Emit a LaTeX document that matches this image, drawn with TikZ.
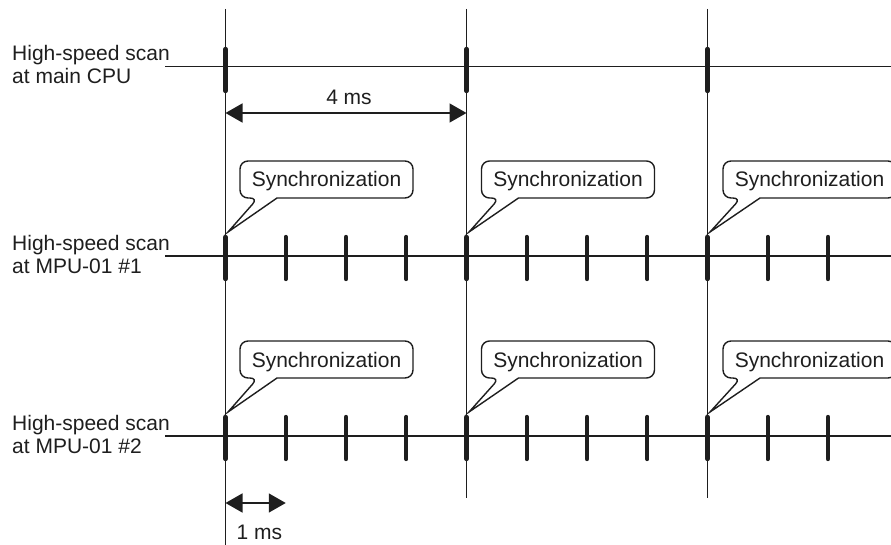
\documentclass[tikz,border=0pt]{standalone}
\usepackage{fontspec}
\setmainfont{Liberation Sans}
\usetikzlibrary{arrows.meta}

\definecolor{ink}{HTML}{1E1E1E}

\tikzset{
  axisline/.style={line width=1.5pt, draw=ink},
  scantick/.style={line width=4.4pt, line cap=round, draw=ink},
  rowlabel/.style={font=\fontsize{21}{23}\selectfont, text=ink, inner sep=0pt, align=left, anchor=west},
  plaintext/.style={font=\fontsize{21}{23}\selectfont, text=ink, inner sep=0pt, anchor=base},
  calloutbox/.style={line width=1.4pt, draw=ink, fill=white, line join=miter},
  dimarrow/.style={line width=1.5pt, draw=ink,
    {Triangle[length=17pt,width=19pt]}-{Triangle[length=17pt,width=19pt]}},
}

% #1 text node name, #2 left edge of the box, #3 x of the sync instant, #4 y of the scan row
\newcommand\synccallout[4]{%
  \draw[calloutbox] ({#2+37},{#4-58}) [rounded corners=8pt]
    -- ({#2+173},{#4-58}) -- ({#2+173},{#4-95}) -- (#2,{#4-95})
    -- (#2,{#4-58}) -- ({#2+18},{#4-58}) [sharp corners]
    -- ({#3+2.5},{#4-24}) -- cycle;
  \node[plaintext] (#1) at ({#2+86.5},{#4-69}) {Synchronization};
}

\begin{document}
\begin{tikzpicture}[x=1pt,y=-1pt]
\useasboundingbox (0,0) rectangle (891,545);
\clip (0,0) rectangle (891,545);

% synchronization instants (every 4 ms)
\coordinate (s1-top) at (225.5,9);  \coordinate (s1-bot) at (225.5,545);
\coordinate (s2-top) at (466.5,9);  \coordinate (s2-bot) at (466.5,498);
\coordinate (s3-top) at (707.5,9);  \coordinate (s3-bot) at (707.5,498);
\draw[axisline] (s1-top) -- (s1-bot);
\draw[axisline] (s2-top) -- (s2-bot);
\draw[axisline] (s3-top) -- (s3-bot);

% main CPU scan row
\coordinate (cpu-start) at (165,66.5);
\coordinate (cpu-end) at (891,66.5);
\draw[axisline] (cpu-start) -- (cpu-end);
\node[rowlabel] (cpu-label) at (12,64.5) {High-speed scan\\at main CPU};
\foreach \x in {225.5,466.5,707.5}
  \draw[scantick] (\x,49) -- (\x,91);

% MPU-01 scan rows
\coordinate (mpu1-start) at (165,256);
\coordinate (mpu1-end) at (891,256);
\draw[axisline] (mpu1-start) -- (mpu1-end);
\node[rowlabel] (mpu1-label) at (12,254) {High-speed scan\\at MPU-01 \#1};

\coordinate (mpu2-start) at (165,436);
\coordinate (mpu2-end) at (891,436);
\draw[axisline] (mpu2-start) -- (mpu2-end);
\node[rowlabel] (mpu2-label) at (12,434) {High-speed scan\\at MPU-01 \#2};

\foreach \y in {256,436}
  \foreach \k in {0,...,10}
    \draw[scantick] ({225.5+60.25*\k},{\y-19}) -- ({225.5+60.25*\k},{\y+23});

% synchronization callouts
\synccallout{sync-a1}{240}{225.5}{256}
\synccallout{sync-a2}{481.5}{466.5}{256}
\synccallout{sync-a3}{723}{707.5}{256}
\synccallout{sync-b1}{240}{225.5}{436}
\synccallout{sync-b2}{481.5}{466.5}{436}
\synccallout{sync-b3}{723}{707.5}{436}

% period dimensions
\coordinate (p4-a) at (225.5,113);
\coordinate (p4-b) at (466.5,113);
\draw[dimarrow] (p4-a) -- (p4-b);
\node[plaintext] (p4-label) at (349,105) {4 ms};

\coordinate (p1-a) at (225.5,503);
\coordinate (p1-b) at (285.75,503);
\draw[dimarrow] (p1-a) -- (p1-b);
\node[plaintext] (p1-label) at (259.5,539) {1 ms};
\end{tikzpicture}
\end{document}
